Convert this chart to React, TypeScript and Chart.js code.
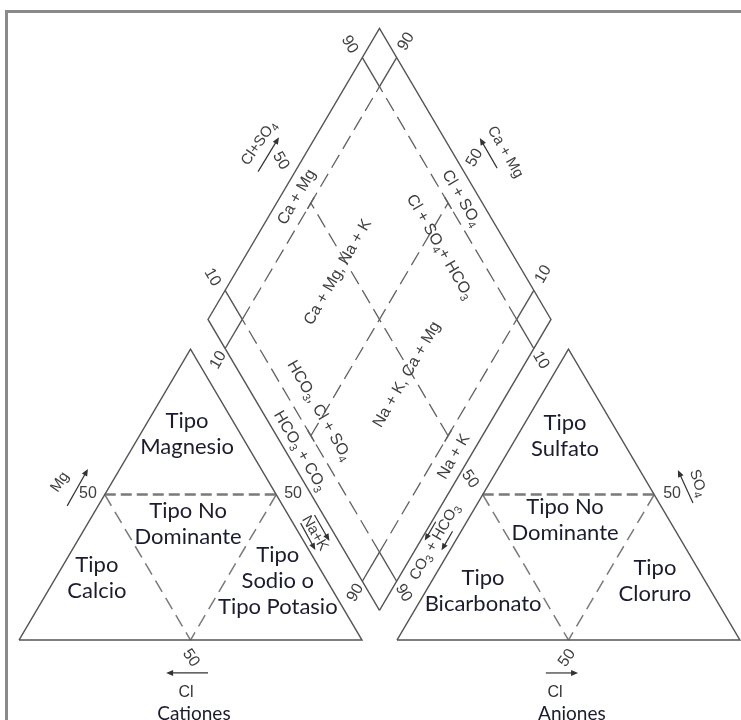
import React, { useEffect, useRef } from "react";
import { Chart, registerables } from "chart.js";

Chart.register(...registerables);

// ---------------- values (percentages) ----------------
const GAP = 10.2; // gap between the two triangles, % of a side
const DIAMOND_UPPER_TICKS = [10, 50, 90];
const DIAMOND_LOWER_TICKS = [10, 90];
const DIAMOND_BAND = [10, 90];
const DIAMOND_MID = 50;
const SPLIT = 50;
const T_HALF = 2;

const CATION_TYPES = ["Tipo\nMagnesio", "Tipo No\nDominante", "Tipo\nCalcio", "Tipo\nSodio o\nTipo Potasio"];
const CATION_TYPE_MG = [70.8, 39.8, 21.4, 20.3];
const CATION_TYPE_NAK = [13.6, 29.4, 12.0, 65.3];

const ANION_TYPES = ["Tipo\nSulfato", "Tipo No\nDominante", "Tipo\nBicarbonato", "Tipo\nCloruro"];
const ANION_TYPE_SO4 = [70.1, 41.2, 16.9, 20.3];
const ANION_TYPE_CL = [13.95, 28.4, 16.65, 65.05];

const DIAMOND_TEXTS = ["Ca + Mg, Na + K", "Cl + SO_4+ HCO_3", "HCO_3, Cl + SO_4", "Na + K, Ca + Mg", "Ca + Mg", "Cl + SO_4", "Na + K", "HCO_3 + CO_3", "CO_3 + HCO_3", "Na+K", "Cl+SO_4", "Ca + Mg"];
const DIAMOND_TEXT_CAMG = [70.2, 44.9, 51.9, 32.5, 95.1, 47.0, 4.7, 50.6, -4.4, 32.1, 115.4, 42.1];
const DIAMOND_TEXT_CLSO4 = [46.0, 80.0, 16.7, 48.5, 46.9, 94.6, 48.1, 4.2, 27.9, -5.6, 45.2, 115.4];
const DIAMOND_TEXT_ROT = [-60, 60, 60, -60, -60, 60, -60, 60, -60, 60, -55, 60];

// ---------------- geometry helpers (diagram units) ----------------
const S60 = Math.sqrt(3) / 2;
type P = { x: number; y: number };
const cat = (mg: number, nak: number): P => ({ x: nak + mg / 2, y: mg * S60 });
const ani = (so4: number, cl: number): P => ({ x: 100 + GAP + cl + so4 / 2, y: so4 * S60 });
const dia = (a: number, b: number): P => ({ x: 100 + GAP / 2 + (b - a) / 2, y: GAP * S60 + (a + b) * S60 });

const VIEW = { xMin: -5.54, xMax: 210.5, yMin: -23.8, yMax: 190.5 };

const SOLID = "#555555";
const DASH = "#626262";
const TRI_DASH = "#7a7a7a";

function line(points: P[], kind: "solid" | "dash" | "triH" | "triD") {
  const st: any = {
    solid: { c: SOLID, w: 1.4, d: [] },
    dash: { c: DASH, w: 1.3, d: [15, 7] },
    triH: { c: TRI_DASH, w: 2.4, d: [11, 5] },
    triD: { c: TRI_DASH, w: 1.5, d: [13, 7] },
  }[kind];
  return {
    data: points,
    showLine: true,
    pointRadius: 0,
    borderColor: st.c,
    borderWidth: st.w,
    borderDash: st.d,
    fill: false,
    tension: 0,
  };
}

function buildDatasets() {
  const out: any[] = [];
  out.push(line([cat(0, 0), cat(0, 100), cat(100, 0), cat(0, 0)], "solid"));
  out.push(line([ani(0, 0), ani(0, 100), ani(100, 0), ani(0, 0)], "solid"));
  out.push(line([dia(0, 0), dia(100, 0), dia(100, 100), dia(0, 100), dia(0, 0)], "solid"));

  // triangle dominance limits
  out.push(line([cat(SPLIT, 0), cat(SPLIT, 100 - SPLIT)], "triH"));
  out.push(line([cat(SPLIT, 0), cat(0, SPLIT)], "triD"));
  out.push(line([cat(SPLIT, 100 - SPLIT), cat(0, SPLIT)], "triD"));
  out.push(line([ani(SPLIT, 0), ani(SPLIT, 100 - SPLIT)], "triH"));
  out.push(line([ani(SPLIT, 0), ani(0, SPLIT)], "triD"));
  out.push(line([ani(SPLIT, 100 - SPLIT), ani(0, SPLIT)], "triD"));

  // diamond inner band
  const [lo, hi] = DIAMOND_BAND;
  for (const t of DIAMOND_BAND) {
    out.push(line([dia(t, 0), dia(t, lo)], "solid"));
    out.push(line([dia(t, lo), dia(t, hi)], "dash"));
    out.push(line([dia(t, hi), dia(t, 100)], "solid"));
    out.push(line([dia(0, t), dia(lo, t)], "solid"));
    out.push(line([dia(lo, t), dia(hi, t)], "dash"));
    out.push(line([dia(hi, t), dia(100, t)], "solid"));
  }
  // central cross with T marks
  const m = DIAMOND_MID;
  out.push(line([dia(m, lo), dia(m, hi)], "dash"));
  out.push(line([dia(lo, m), dia(hi, m)], "dash"));
  for (const t of DIAMOND_BAND) {
    out.push(line([dia(m - T_HALF, t), dia(m + T_HALF, t)], "solid"));
    out.push(line([dia(t, m - T_HALF), dia(t, m + T_HALF)], "solid"));
  }
  return out;
}

// ---------------- text drawing ----------------
const SANS = '"Liberation Sans", Arial, sans-serif';
const TYPE_FONT = 'Lato, "Open Sans", sans-serif';
const TEXT_GRAY = "#404040";
const TYPE_COLOR = "#1c1c30";

function parts(text: string) {
  const out: { s: string; sub: boolean }[] = [];
  let buf = "";
  for (let i = 0; i < text.length; i++) {
    if (text[i] === "_" && i + 1 < text.length) {
      if (buf) out.push({ s: buf, sub: false });
      buf = "";
      out.push({ s: text[i + 1], sub: true });
      i++;
    } else buf += text[i];
  }
  if (buf) out.push({ s: buf, sub: false });
  return out;
}

function drawText(ctx: CanvasRenderingContext2D, text: string, x: number, y: number, rot: number, size: number, family: string, color: string) {
  const ps = parts(text);
  const f = `${size}px ${family}`;
  const fs = `${Math.round(size * 0.7)}px ${family}`;
  let w = 0;
  for (const p of ps) {
    ctx.font = p.sub ? fs : f;
    w += ctx.measureText(p.s).width;
  }
  ctx.save();
  ctx.translate(x, y);
  ctx.rotate((rot * Math.PI) / 180);
  ctx.fillStyle = color;
  ctx.textBaseline = "middle";
  ctx.textAlign = "left";
  let cx = -w / 2;
  for (const p of ps) {
    ctx.font = p.sub ? fs : f;
    ctx.fillText(p.s, cx, p.sub ? size * 0.3 : 0);
    cx += ctx.measureText(p.s).width;
  }
  ctx.restore();
}

function drawArrow(ctx: CanvasRenderingContext2D, x1: number, y1: number, x2: number, y2: number) {
  const a = Math.atan2(y2 - y1, x2 - x1);
  const hl = 7, hw = 3;
  ctx.save();
  ctx.strokeStyle = "#333";
  ctx.fillStyle = "#333";
  ctx.lineWidth = 1.2;
  ctx.beginPath();
  ctx.moveTo(x1, y1);
  ctx.lineTo(x2 - hl * 0.7 * Math.cos(a), y2 - hl * 0.7 * Math.sin(a));
  ctx.stroke();
  ctx.beginPath();
  ctx.moveTo(x2, y2);
  ctx.lineTo(x2 - hl * Math.cos(a) + hw * Math.sin(a), y2 - hl * Math.sin(a) - hw * Math.cos(a));
  ctx.lineTo(x2 - hl * Math.cos(a) - hw * Math.sin(a), y2 - hl * Math.sin(a) + hw * Math.cos(a));
  ctx.closePath();
  ctx.fill();
  ctx.restore();
}

const ARROWS: [P, P][] = [
  [dia(110.8, 40), dia(110.6, 52)],
  [dia(41.7, 110.3), dia(51.9, 110.4)],
  [cat(46.1, -9.0), cat(58.8, -9.3)],
  [ani(47.1, 62.75), ani(58.4, 52.7)],
  [{ x: 55.1, y: -9.8 }, { x: 42.9, y: -9.8 }],
  [{ x: 153.6, y: -9.8 }, { x: 163.0, y: -9.8 }],
  [{ x: 86.15, y: 37.2 }, { x: 90.5, y: 29.5 }],
  [{ x: 82.1, y: 34.8 }, { x: 86.4, y: 26.8 }],
  [{ x: 121.5, y: 35.2 }, { x: 118.3, y: 29.6 }],
  [{ x: 126.4, y: 32.4 }, { x: 123.2, y: 26.7 }],
];

const labelPlugin = {
  id: "piperLabels",
  afterDatasetsDraw(chart: any) {
    const ctx: CanvasRenderingContext2D = chart.ctx;
    const sx = chart.scales.x, sy = chart.scales.y;
    const X = (p: P) => sx.getPixelForValue(p.x);
    const Y = (p: P) => sy.getPixelForValue(p.y);
    const t = (txt: string, p: P, rot: number, size: number, fam = SANS, col = TEXT_GRAY) =>
      drawText(ctx, txt, X(p), Y(p), rot, size, fam, col);

    // diamond edge scales
    for (const v of DIAMOND_UPPER_TICKS) {
      t(String(v), dia(106, v - 1.5), 60, 16);
      t(String(v), dia(v, 105.5), -60, 16);
    }
    for (const v of DIAMOND_LOWER_TICKS) {
      t(String(v), dia(100 - v, -4), -60, 16);
      t(String(v), dia(-4, 100 - v), 60, 16);
    }
    // triangle 50 marks
    t(String(SPLIT), cat(50.2, -5.0), 0, 16);
    t(String(SPLIT), cat(50.2, 54.8), 0, 16);
    t(String(SPLIT), { x: 50.1, y: -5.36 }, 55, 16);
    t(String(SPLIT), ani(55.3, -6.35), 55, 16);
    t(String(SPLIT), ani(50.2, 55.1), 0, 16);
    t(String(SPLIT), { x: 159.8, y: -5.36 }, -55, 16);

    // diamond texts
    DIAMOND_TEXTS.forEach((s, i) => {
      t(s, dia(DIAMOND_TEXT_CAMG[i], DIAMOND_TEXT_CLSO4[i]), DIAMOND_TEXT_ROT[i], i >= 8 ? 15 : 16);
    });
    t("Mg", cat(54.3, -15.2), -55, 15);
    t("SO_4", ani(53.9, 60.8), 72, 15);
    t("Cl", { x: 48.7, y: -15.5 }, 0, 16, SANS, "#333");
    t("Cl", { x: 156.3, y: -15.5 }, 0, 16, SANS, "#333");
    t("Cationes", { x: 51.0, y: -22.0 }, 0, 19, TYPE_FONT, TYPE_COLOR);
    t("Aniones", { x: 161.2, y: -22.0 }, 0, 19, TYPE_FONT, TYPE_COLOR);

    // type labels
    const block = (txt: string, p: P) => {
      const lines = txt.split("\n");
      lines.forEach((ln, k) => {
        const dy = (k - (lines.length - 1) / 2) * 26;
        drawText(ctx, ln, X(p), Y(p) + dy, 0, 22, TYPE_FONT, TYPE_COLOR);
      });
    };
    CATION_TYPES.forEach((s, i) => block(s, cat(CATION_TYPE_MG[i], CATION_TYPE_NAK[i])));
    ANION_TYPES.forEach((s, i) => block(s, ani(ANION_TYPE_SO4[i], ANION_TYPE_CL[i])));

    for (const [a, b] of ARROWS) drawArrow(ctx, X(a), Y(a), X(b), Y(b));
  },
};

export default function App() {
  const ref = useRef<HTMLCanvasElement | null>(null);
  useEffect(() => {
    if (!ref.current) return;
    const chart = new Chart(ref.current, {
      type: "scatter",
      data: { datasets: buildDatasets() },
      options: {
        animation: false,
        responsive: false,
        maintainAspectRatio: false,
        events: [],
        layout: { padding: 0 },
        plugins: { legend: { display: false }, tooltip: { enabled: false } },
        scales: {
          x: { type: "linear", display: false, min: VIEW.xMin, max: VIEW.xMax },
          y: { type: "linear", display: false, min: VIEW.yMin, max: VIEW.yMax },
        },
      },
      plugins: [labelPlugin],
    } as any);
    return () => chart.destroy();
  }, []);
  return (
    <div style={{ position: "absolute", left: 0, top: 0, width: 741, height: 720, overflow: "hidden", background: "#fff" }}>
      <div style={{ position: "absolute", left: 5, top: 10, width: 800, height: 800, borderLeft: "3px solid #8a8a8a", borderTop: "3px solid #8a8a8a" }} />
      <canvas ref={ref} width={741} height={720} style={{ position: "absolute", left: 0, top: 0, width: 741, height: 720 }} />
    </div>
  );
}
